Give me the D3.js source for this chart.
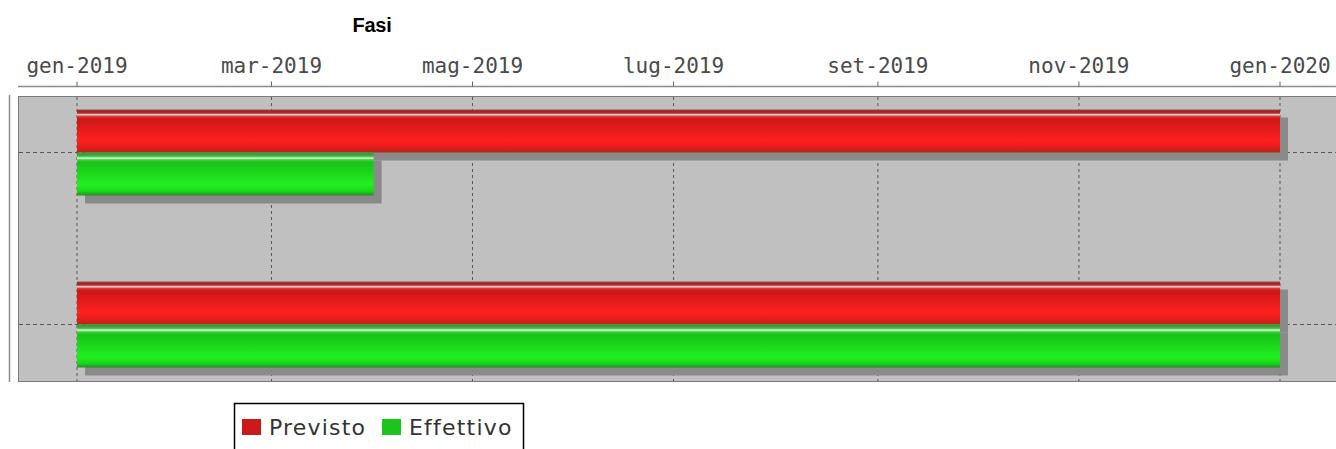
<!doctype html>
<html lang="it">
<head>
  <meta charset="utf-8">
  <title>Fasi</title>
  <script src="https://d3js.org/d3.v7.min.js"></script>
  <style>
    body { margin:0; background:#fff; }
    text { font-family:"DejaVu Sans", sans-serif; }
    .tick-label { font-family:"DejaVu Sans Mono", monospace; font-size:21px; fill:#4a4a4a; }
    .title { font-family:"Liberation Sans", sans-serif; font-weight:bold; font-size:20px; fill:#000; letter-spacing:-0.3px; }
    .legend-label { font-size:22px; fill:#333; letter-spacing:1.2px; }
  </style>
</head>
<body>
<div id="chart"></div>
<script>
// data
var categories = ["Fase 1", "Fase 2"];
var series = ["Previsto", "Effettivo"];
var previstoStart = ["2019-01-01", "2019-01-01"];
var previstoEnd = ["2020-01-01", "2020-01-01"];
var effettivoStart = ["2019-01-01", "2019-01-01"];
var effettivoEnd = ["2019-04-01", "2020-01-01"];
var monthNames = ["gen","feb","mar","apr","mag","giu","lug","ago","set","ott","nov","dic"];
var tickDates = ["2019-01-01","2019-03-01","2019-05-01","2019-07-01","2019-09-01","2019-11-01","2020-01-01"];

var width = 1336, height = 449;
var plotLeft = 18, plotRight = 1340, plotTop = 96, plotBottom = 381;
var parse = d3.utcParse("%Y-%m-%d");

var svg = d3.select("#chart").append("svg")
  .attr("width", width)
  .attr("height", height);

var defs = svg.append("defs");
function gradient(id, stops) {
  var g = defs.append("linearGradient").attr("id", id)
    .attr("x1", 0).attr("y1", 0).attr("x2", 0).attr("y2", 1);
  stops.forEach(function(s){ g.append("stop").attr("offset", s[0]).attr("stop-color", s[1]); });
}
gradient("grad-Previsto", [[0,"#b05050"],[0.03,"#9a2626"],[0.085,"#a83030"],[0.12,"#ffd6d6"],[0.16,"#d83a3a"],[0.22,"#cc1616"],[0.72,"#ff2020"],[0.9,"#e21c1c"],[1,"#a43018"]]);
gradient("grad-Effettivo", [[0,"#4a9a4a"],[0.04,"#34a034"],[0.09,"#50b850"],[0.13,"#d8ffd8"],[0.17,"#40d040"],[0.23,"#18c218"],[0.75,"#20f020"],[0.9,"#18d818"],[1,"#2a8a2a"]]);

var legendColor = { "Previsto": "#cc1a1a", "Effettivo": "#1ec41e" };

var x = d3.scaleUtc()
  .domain([parse(tickDates[0]), parse(tickDates[tickDates.length - 1])])
  .range([77, 1280]);

var y = d3.scaleBand()
  .domain(categories)
  .range([plotTop, plotBottom])
  .paddingInner(0.5)
  .paddingOuter(0.0785);

var ySub = d3.scaleBand()
  .domain(series)
  .range([0, y.bandwidth()]);

// title
svg.append("text").attr("class", "title")
  .attr("x", 372).attr("y", 32)
  .attr("text-anchor", "middle")
  .text("Fasi");

// top date axis
var ticks = tickDates.map(parse);
var axis = svg.append("g").attr("transform", "translate(0,86.5)");
axis.append("line")
  .attr("x1", plotLeft).attr("x2", width)
  .attr("stroke", "#8a8a8a").attr("stroke-width", 1.5);
axis.selectAll(".tk").data(ticks).enter().append("line")
  .attr("x1", function(d){ return x(d); }).attr("x2", function(d){ return x(d); })
  .attr("y1", -5).attr("y2", 0)
  .attr("stroke", "#666");
axis.selectAll(".tick-label").data(ticks).enter().append("text")
  .attr("class", "tick-label")
  .attr("x", function(d){ return x(d); })
  .attr("y", -13.5)
  .attr("text-anchor", "middle")
  .text(function(d){ return monthNames[d.getUTCMonth()] + "-" + d.getUTCFullYear(); });

// left category axis line (no labels)
svg.append("line")
  .attr("x1", 9.5).attr("x2", 9.5)
  .attr("y1", plotTop - 1).attr("y2", plotBottom + 1)
  .attr("stroke", "#8c8c8c").attr("stroke-width", 1.5);

// plot background
svg.append("rect")
  .attr("x", plotLeft + 0.5).attr("y", plotTop + 0.5)
  .attr("width", plotRight - plotLeft).attr("height", plotBottom - plotTop)
  .attr("fill", "#c0c0c0")
  .attr("stroke", "#7a7a7a");

// gridlines
svg.selectAll(".vgrid").data(ticks).enter().append("line")
  .attr("x1", function(d){ return x(d); }).attr("x2", function(d){ return x(d); })
  .attr("y1", plotTop + 1).attr("y2", plotBottom)
  .attr("stroke", "#555").attr("stroke-dasharray", "3,3");
svg.selectAll(".hgrid").data(categories).enter().append("line")
  .attr("x1", plotLeft + 1).attr("x2", plotRight)
  .attr("y1", function(d){ return y(d) + y.bandwidth() / 2; })
  .attr("y2", function(d){ return y(d) + y.bandwidth() / 2; })
  .attr("stroke", "#555").attr("stroke-dasharray", "4,3");

// bars
var items = [];
categories.forEach(function(c, i) {
  items.push({ cat: c, s: "Previsto", start: parse(previstoStart[i]), end: parse(previstoEnd[i]) });
  items.push({ cat: c, s: "Effettivo", start: parse(effettivoStart[i]), end: parse(effettivoEnd[i]) });
});

var shadowOffset = 8;
var bars = svg.append("g");
items.forEach(function(d) {
  var bx = x(d.start), bw = x(d.end) - x(d.start);
  var by = y(d.cat) + ySub(d.s), bh = ySub.bandwidth();
  bars.append("rect")
    .attr("x", bx + shadowOffset).attr("y", by + shadowOffset)
    .attr("width", bw).attr("height", bh)
    .attr("fill", "#8a8a8a");
  bars.append("rect")
    .attr("x", bx).attr("y", by)
    .attr("width", bw).attr("height", bh)
    .attr("fill", "url(#grad-" + d.s + ")");
});

// legend
var legend = svg.append("g");
legend.append("rect")
  .attr("x", 234.5).attr("y", 403.5)
  .attr("width", 289).attr("height", 60)
  .attr("fill", "#fff").attr("stroke", "#000").attr("stroke-width", 1.5);
var legendX = { "Previsto": 242, "Effettivo": 382 };
series.forEach(function(s) {
  legend.append("rect")
    .attr("x", legendX[s]).attr("y", 419)
    .attr("width", 19).attr("height", 16)
    .attr("fill", legendColor[s]);
  legend.append("text").attr("class", "legend-label")
    .attr("x", legendX[s] + 27).attr("y", 435)
    .text(s);
});
</script>
</body>
</html>
